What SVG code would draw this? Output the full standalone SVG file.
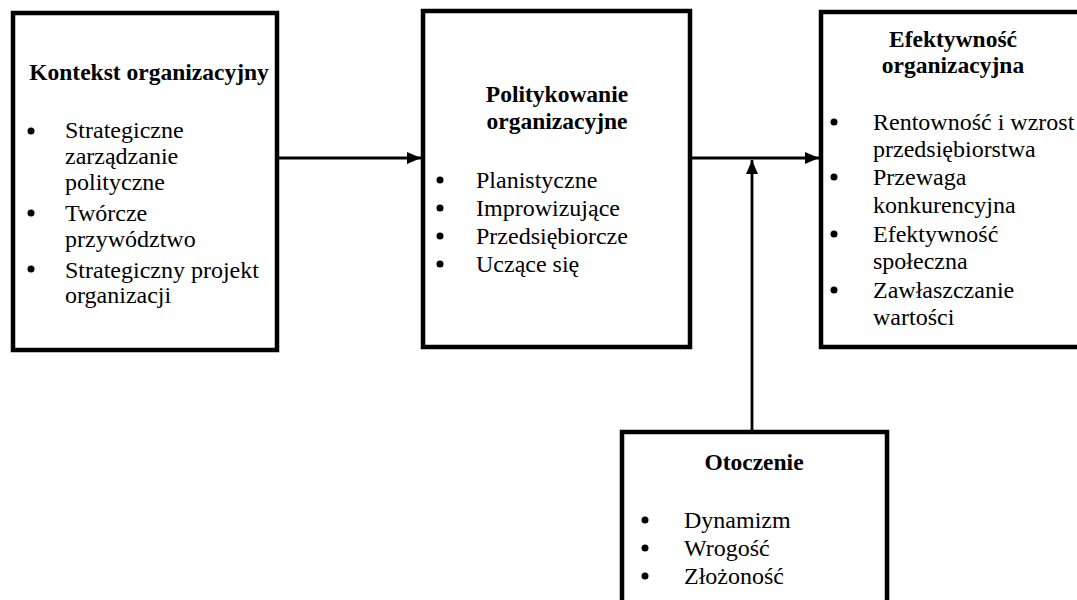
<svg xmlns="http://www.w3.org/2000/svg" width="1077" height="600" viewBox="0 0 1077 600">
<defs>
<marker id="ah" viewBox="0 0 14 12" refX="14" refY="6" markerWidth="14" markerHeight="12" markerUnits="userSpaceOnUse" orient="auto">
<path d="M0,0 L14,6 L0,12 Z" fill="#000"/>
</marker>
<style>
.box{fill:#fff;stroke:#000;stroke-width:4.5}
.t{font-size:24px;fill:#000}
.h{font-weight:bold;text-anchor:middle;font-size:23.5px}
.d{fill:#000}
.c{stroke:#000;stroke-width:2.8;fill:none}
</style>
</defs>
<rect width="1077" height="600" fill="#fff"/>
<g id="connectors">
<line class="c" x1="277" y1="158" x2="421" y2="158" marker-end="url(#ah)"/>
<line class="c" x1="690" y1="158" x2="819" y2="158" marker-end="url(#ah)"/>
<line class="c" x1="752" y1="432" x2="752" y2="160" marker-end="url(#ah)"/>
</g>
<g font-family="Liberation Serif, Times New Roman, serif">
<g id="kontekst">
<rect class="box" x="13" y="13" width="264" height="337"/>
<text class="t h" x="149" y="80">Kontekst organizacyjny</text>
<circle class="d" cx="31" cy="131" r="3.5"/>
<text class="t" x="65" y="138">Strategiczne</text>
<text class="t" x="65" y="164">zarządzanie</text>
<text class="t" x="65" y="190">polityczne</text>
<circle class="d" cx="31" cy="213" r="3.5"/>
<text class="t" x="65" y="221">Twórcze</text>
<text class="t" x="65" y="247">przywództwo</text>
<circle class="d" cx="31" cy="269" r="3.5"/>
<text class="t" x="65" y="278">Strategiczny projekt</text>
<text class="t" x="65" y="303">organizacji</text>
</g>
<g id="politykowanie">
<rect class="box" x="423" y="11" width="267" height="336"/>
<text class="t h" x="557" y="102">Politykowanie</text>
<text class="t h" x="557" y="129">organizacyjne</text>
<circle class="d" cx="440" cy="180" r="3.5"/>
<text class="t" x="476" y="188">Planistyczne</text>
<circle class="d" cx="440" cy="208" r="3.5"/>
<text class="t" x="476" y="216">Improwizujące</text>
<circle class="d" cx="440" cy="236" r="3.5"/>
<text class="t" x="476" y="244">Przedsiębiorcze</text>
<circle class="d" cx="440" cy="264" r="3.5"/>
<text class="t" x="476" y="272">Uczące się</text>
</g>
<g id="efektywnosc">
<rect class="box" x="821" y="12" width="264" height="335"/>
<text class="t h" x="953" y="47">Efektywność</text>
<text class="t h" x="953" y="73">organizacyjna</text>
<circle class="d" cx="834" cy="122" r="3.5"/>
<text class="t" x="873" y="130">Rentowność i wzrost</text>
<text class="t" x="873" y="157">przedsiębiorstwa</text>
<circle class="d" cx="834" cy="177" r="3.5"/>
<text class="t" x="873" y="185">Przewaga</text>
<text class="t" x="873" y="213">konkurencyjna</text>
<circle class="d" cx="834" cy="234" r="3.5"/>
<text class="t" x="873" y="242">Efektywność</text>
<text class="t" x="873" y="269">społeczna</text>
<circle class="d" cx="834" cy="290" r="3.5"/>
<text class="t" x="873" y="298">Zawłaszczanie</text>
<text class="t" x="873" y="325">wartości</text>
</g>
<g id="otoczenie">
<rect class="box" x="622" y="432" width="265" height="180"/>
<text class="t h" x="754" y="470">Otoczenie</text>
<circle class="d" cx="645" cy="520" r="3.5"/>
<text class="t" x="684" y="528">Dynamizm</text>
<circle class="d" cx="645" cy="548" r="3.5"/>
<text class="t" x="684" y="556">Wrogość</text>
<circle class="d" cx="645" cy="576" r="3.5"/>
<text class="t" x="684" y="584">Złożoność</text>
</g>
</g>
</svg>
